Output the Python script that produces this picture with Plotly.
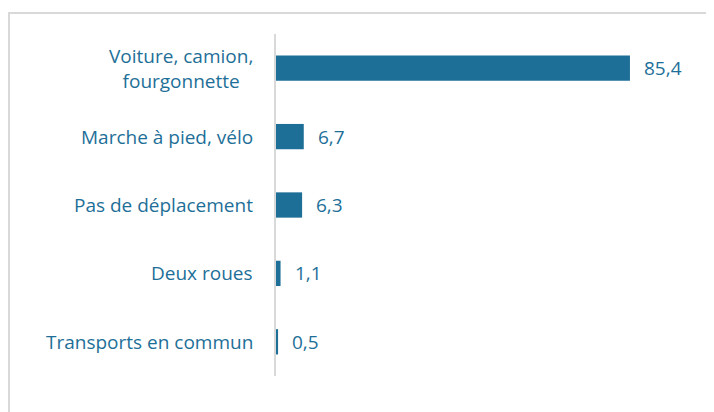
import plotly.graph_objects as go

categories = ["Voiture, camion,<br>fourgonnette", "Marche à pied, vélo", "Pas de déplacement",
              "Deux roues", "Transports en commun"]
values = [85.4, 6.7, 6.3, 1.1, 0.5]

BLUE = "#1e6f98"
FONT = "Open Sans"

# page has an 8px body margin, so the figure is sized/offset to compensate
OFF = 8
W, H = 714 - OFF, 412 - OFF
L, R, T, B = 276 - OFF, 14, 34 - OFF, 36
pw, ph = W - L - R, H - T - B

fig = go.Figure(go.Bar(
    x=values, y=categories, orientation="h",
    marker=dict(color=BLUE, line=dict(width=0)),
    hoverinfo="skip",
))

ann = []
for c, v in zip(categories, values):
    ann.append(dict(x=0, xref="paper", y=c, yref="y", text=c, showarrow=False,
                    xanchor="right", xshift=-21, align="center",
                    font=dict(family=FONT, size=19, color=BLUE)))
    ann.append(dict(x=v, xref="x", y=c, yref="y", text=f"{v:.1f}".replace(".", ","),
                    showarrow=False, xanchor="left", xshift=12,
                    font=dict(family=FONT, size=19, color=BLUE)))

def px_x(p):
    return (p - OFF - L) / pw

def px_y(p):
    return (H - B - (p - OFF)) / ph

shapes = [
    dict(type="line", xref="paper", yref="paper", x0=px_x(8), x1=px_x(730),
         y0=px_y(13), y1=px_y(13), line=dict(color="#d9d9d9", width=2)),
    dict(type="line", xref="paper", yref="paper", x0=px_x(9), x1=px_x(9),
         y0=px_y(13), y1=px_y(430), line=dict(color="#d9d9d9", width=2)),
]

fig.update_layout(
    width=W, height=H,
    margin=dict(l=L, r=R, t=T, b=B),
    paper_bgcolor="white", plot_bgcolor="white",
    bargap=0.63,
    showlegend=False,
    annotations=ann,
    shapes=shapes,
    xaxis=dict(range=[0, 102.3], showgrid=False, zeroline=False, showticklabels=False,
               showline=False, fixedrange=True),
    yaxis=dict(autorange="reversed", showgrid=False, zeroline=False, showticklabels=False,
               showline=True, linecolor="#d9d9d9", linewidth=2, ticks="", fixedrange=True),
)

fig.write_html("out.html", config={"displayModeBar": False})
